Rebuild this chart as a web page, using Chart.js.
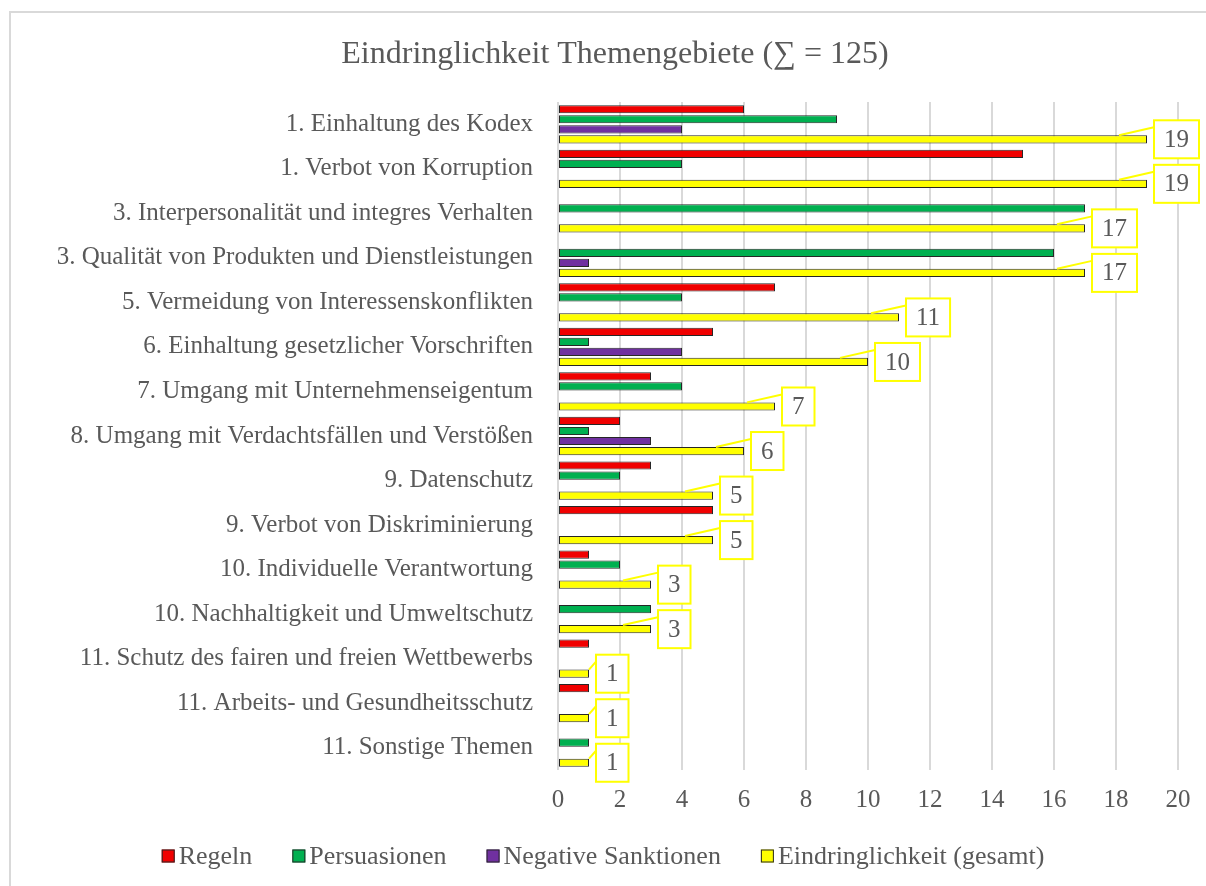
<!DOCTYPE html>
<html>
<head>
<meta charset="utf-8">
<script src="https://cdn.jsdelivr.net/npm/chart.js@4.4.1/dist/chart.umd.min.js"></script>
<style>
  html, body { margin: 0; padding: 0; background: #fff; }
  #wrap { width: 1206px; height: 886px; }
</style>
</head>
<body>
<div id="wrap"><canvas id="chart" width="1206" height="886"></canvas></div>
<script>
const categories = [
  '1. Einhaltung des Kodex',
  '1. Verbot von Korruption',
  '3. Interpersonalität und integres Verhalten',
  '3. Qualität von Produkten und Dienstleistungen',
  '5. Vermeidung von Interessenskonflikten',
  '6. Einhaltung gesetzlicher Vorschriften',
  '7. Umgang mit Unternehmenseigentum',
  '8. Umgang mit Verdachtsfällen und Verstößen',
  '9. Datenschutz',
  '9. Verbot von Diskriminierung',
  '10. Individuelle Verantwortung',
  '10. Nachhaltigkeit und Umweltschutz',
  '11. Schutz des fairen und freien Wettbewerbs',
  '11. Arbeits- und Gesundheitsschutz',
  '11. Sonstige Themen'
];
const regeln             = [6, 15, 0, 0, 7, 5, 3, 2, 3, 5, 1, 0, 1, 1, 0];
const persuasionen       = [9, 4, 17, 16, 4, 1, 4, 1, 2, 0, 2, 3, 0, 0, 1];
const negativeSanktionen = [4, 0, 0, 1, 0, 4, 0, 3, 0, 0, 0, 0, 0, 0, 0];
const gesamt             = [19, 19, 17, 17, 11, 10, 7, 6, 5, 5, 3, 3, 1, 1, 1];
const seriesNames = ['Regeln', 'Persuasionen', 'Negative Sanktionen', 'Eindringlichkeit (gesamt)'];
const xMin = 0, xMax = 20, xStep = 2;
const titleText = 'Eindringlichkeit Themengebiete (\u2211 = 125)';

const FONT = '"Liberation Serif", "Times New Roman", serif';
const TEXT = '#595959';
const EDGE = '#262626';

// thin light frame (only left + top edges are visible in the crop)
const framePlugin = {
  id: 'frame',
  beforeDraw(chart) {
    const ctx = chart.ctx;
    ctx.save();
    ctx.strokeStyle = '#D9D9D9';
    ctx.lineWidth = 2;
    ctx.beginPath();
    ctx.moveTo(10, chart.height);
    ctx.lineTo(10, 12);
    ctx.lineTo(chart.width, 12);
    ctx.stroke();
    ctx.restore();
  }
};

const titlePlugin = {
  id: 'titleText',
  afterDraw(chart) {
    const ctx = chart.ctx;
    ctx.save();
    ctx.font = '32px ' + FONT;
    ctx.fillStyle = TEXT;
    ctx.textAlign = 'center';
    ctx.textBaseline = 'middle';
    ctx.fillText(titleText, 615, 55);
    ctx.restore();
  }
};

// boxed value labels with leader lines on the total series
const totalLabelsPlugin = {
  id: 'totalLabels',
  afterDatasetsDraw(chart) {
    const ctx = chart.ctx;
    const meta = chart.getDatasetMeta(3);
    const xs = chart.scales.x;
    ctx.save();
    ctx.font = '25px ' + FONT;
    meta.data.forEach((bar, i) => {
      const txt = String(gesamt[i]);
      const w = ctx.measureText(txt).width + 20;
      const h = 38;
      const left = bar.x + 7;
      const top = bar.y - h / 2;
      const barLen = bar.x - xs.getPixelForValue(0);
      const sx = barLen > 60 ? bar.x - 28 : bar.x;
      const sy = bar.y - bar.height / 2;
      ctx.strokeStyle = '#FFFF00';
      ctx.lineWidth = 2;
      ctx.beginPath();
      ctx.moveTo(sx, sy);
      ctx.lineTo(left, top + 7);
      ctx.stroke();
      ctx.fillStyle = '#fff';
      ctx.fillRect(left, top, w, h);
      ctx.strokeRect(left, top, w, h);
      ctx.fillStyle = TEXT;
      ctx.textAlign = 'center';
      ctx.textBaseline = 'middle';
      ctx.fillText(txt, left + w / 2, top + h / 2 + 1);
    });
    ctx.restore();
  }
};

const legendPlugin = {
  id: 'bottomLegend',
  afterDraw(chart) {
    const ctx = chart.ctx;
    const box = 13, gap = 4, sep = 40, cy = 856;
    ctx.save();
    ctx.font = '26px ' + FONT;
    const items = chart.data.datasets.map(ds => ({
      label: ds.label, color: ds.backgroundColor, w: ctx.measureText(ds.label).width
    }));
    const total = items.reduce((s, it) => s + box + gap + it.w, 0) + sep * (items.length - 1);
    let x = 603 - total / 2;
    items.forEach(it => {
      ctx.fillStyle = it.color;
      ctx.fillRect(x, cy - box / 2, box, box);
      ctx.strokeStyle = EDGE;
      ctx.lineWidth = 1;
      ctx.strokeRect(x + 0.5, cy - box / 2 + 0.5, box - 1, box - 1);
      ctx.fillStyle = TEXT;
      ctx.textAlign = 'left';
      ctx.textBaseline = 'middle';
      ctx.fillText(it.label, x + box + gap, cy + 1);
      x += box + gap + it.w + sep;
    });
    ctx.restore();
  }
};

const barBorder = ctx => (ctx.raw === 0 ? 0 : 1);

function series(label, data, color) {
  return {
    label,
    data,
    backgroundColor: color,
    borderColor: EDGE,
    borderWidth: barBorder,
    borderSkipped: false,
    categoryPercentage: 0.9,
    barPercentage: 0.82
  };
}

new Chart(document.getElementById('chart'), {
  type: 'bar',
  data: {
    labels: categories,
    datasets: [
      series(seriesNames[0], regeln, '#F00000'),
      series(seriesNames[1], persuasionen, '#00B050'),
      series(seriesNames[2], negativeSanktionen, '#7030A0'),
      series(seriesNames[3], gesamt, '#FFFF00')
    ]
  },
  options: {
    indexAxis: 'y',
    responsive: false,
    animation: false,
    devicePixelRatio: 1,
    layout: { padding: { top: 102, left: 10, right: 28, bottom: 76 } },
    plugins: {
      legend: { display: false },
      title: { display: false },
      tooltip: { enabled: false }
    },
    scales: {
      x: {
        min: xMin,
        max: xMax,
        grid: { color: '#D9D9D9', lineWidth: 2, drawTicks: false },
        border: { display: false },
        ticks: {
          stepSize: xStep,
          padding: 15,
          color: TEXT,
          font: { family: FONT, size: 25 }
        },
        afterFit(scale) { scale.height = 40; }
      },
      y: {
        grid: { display: false, drawTicks: false },
        border: { display: false },
        ticks: {
          padding: 25,
          color: TEXT,
          font: { family: FONT, size: 25 },
          autoSkip: false
        },
        afterFit(scale) { scale.width = 548; }
      }
    }
  },
  plugins: [framePlugin, titlePlugin, totalLabelsPlugin, legendPlugin]
});
</script>
</body>
</html>
